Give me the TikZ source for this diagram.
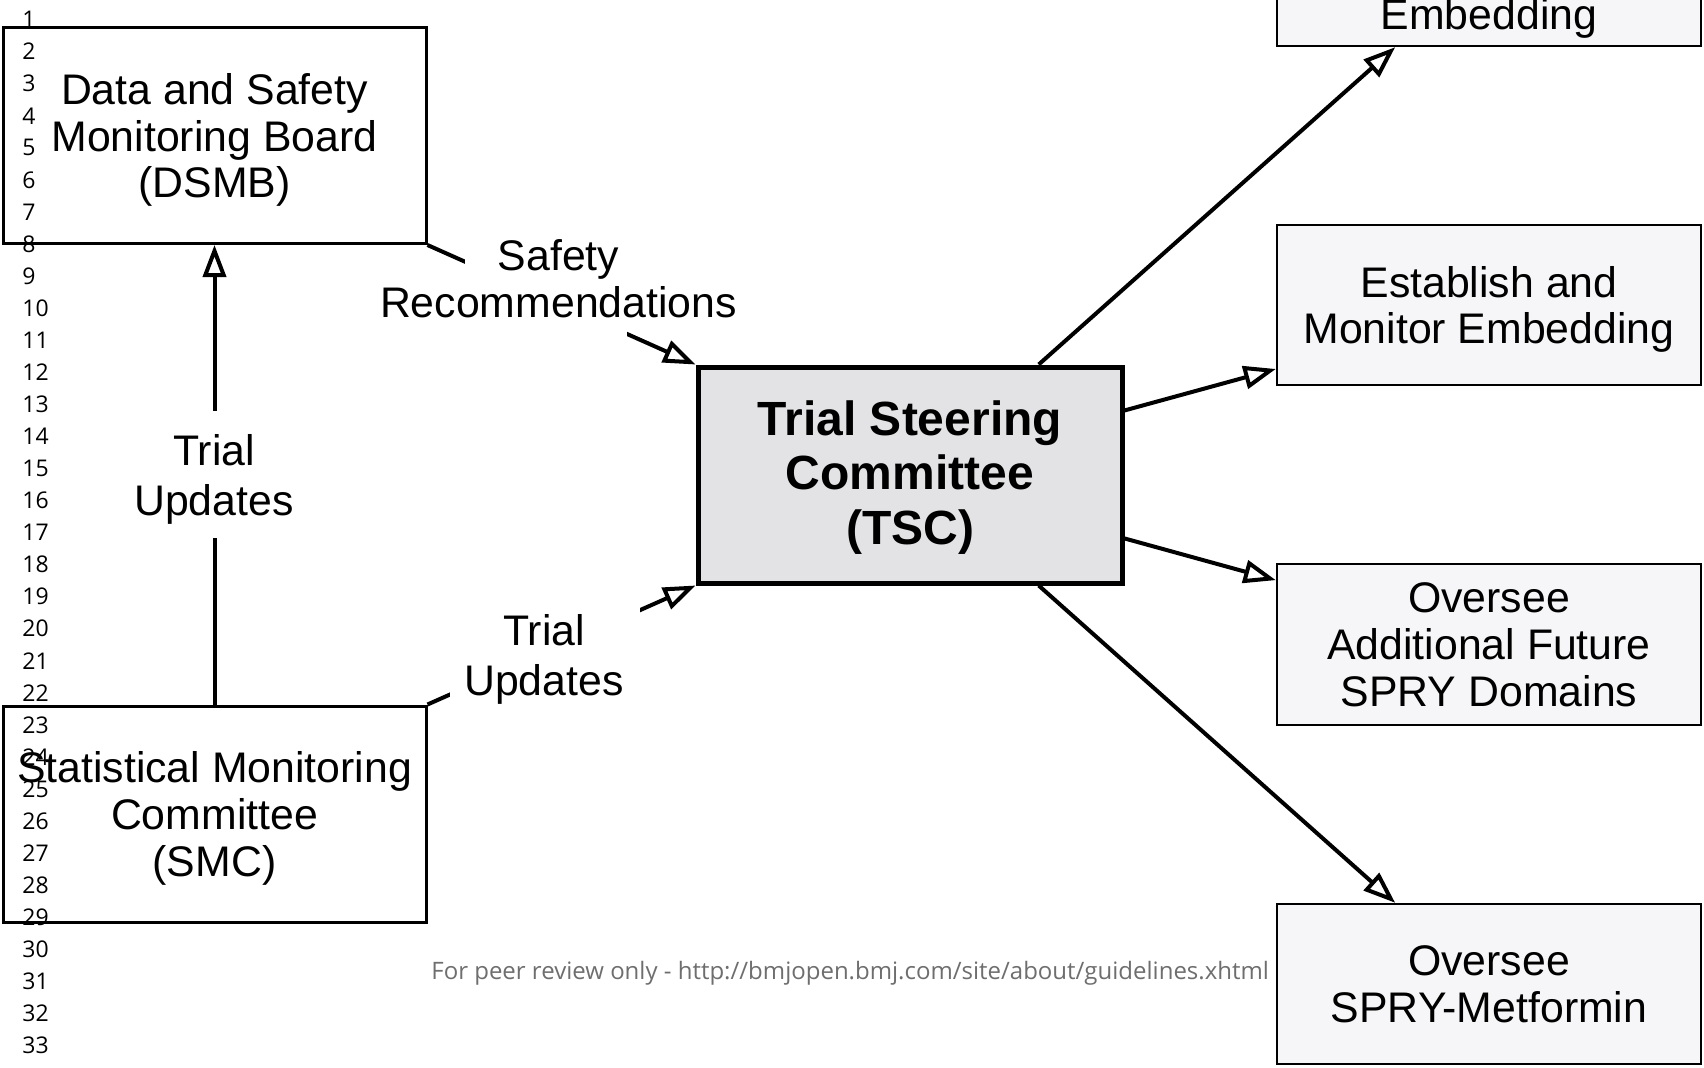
\documentclass[tikz,border=0pt]{standalone}
\usepackage{fontspec}
\setmainfont{Liberation Sans}
\newfontfamily\numfont{Open Sans}
\usetikzlibrary{arrows.meta,calc}
\definecolor{tscfill}{RGB}{227,227,229}
\definecolor{taskfill}{RGB}{246,246,248}
\definecolor{footgray}{RGB}{110,110,110}
\begin{document}
\begin{tikzpicture}[x=0.5pt,y=-0.5pt,
  txt/.style={font=\fontsize{21.4}{23.4}\selectfont, align=center, inner sep=0pt},
  board/.style={txt, draw, line width=1.5pt, fill=white, minimum width=211.5pt, minimum height=108pt, text depth=0pt},
  tscbox/.style={draw, line width=2.5pt, fill=tscfill, minimum width=212pt, minimum height=108pt,
    align=center, inner sep=0pt, text depth=2.5pt, font=\bfseries\fontsize{24}{27.3}\selectfont},
  task/.style={txt, draw, line width=1.2pt, fill=taskfill, minimum width=212pt, minimum height=80pt, text depth=0pt},
  conn/.style={line width=2pt, -{Triangle[open, length=16pt, width=11.5pt]}},
  mask/.style={fill=white},
  lbl/.style={txt},
  updlbl/.style={txt, font=\fontsize{21.4}{25}\selectfont},
  linenum/.style={font=\numfont\fontsize{11.5}{13}\selectfont, anchor=west, inner sep=0pt},
  footer/.style={font=\numfont\fontsize{12}{14}\selectfont, text=footgray, anchor=west, inner sep=0pt}
]
\useasboundingbox (0,0) rectangle (1704,1067);
\clip (0,0) rectangle (1704,1067);

% committees
\node[board] (dsmb) at (214.5,135.5) {Data and Safety\\Monitoring Board\\(DSMB)};
\node[board] (smc) at (214.5,814) {Statistical Monitoring\\Committee\\(SMC)};
\node[tscbox] (tsc) at (910,475) {Trial Steering\\Committee\\(TSC)};

% TSC responsibilities
\node[task] (embed) at (1489,-34) {};
\node[txt, anchor=base] (embedtxt) at (1489,29) {Embedding};
\node[task] (establish) at (1489,305) {Establish and\\Monitor Embedding};
\node[task, minimum height=80.5pt] (future) at (1489,644.5) {Oversee\\Additional Future\\SPRY Domains};
\node[task] (metformin) at (1489,984) {Oversee\\SPRY-Metformin};

% connectors
\draw[conn] (smc.north) -- (dsmb.south);
\draw[conn] (dsmb.south east) -- (tsc.north west);
\draw[conn] (smc.north east) -- (tsc.south west);
\draw[conn] ($(tsc.north west)!0.8!(tsc.north east)$) -- ($(embed.south west)!0.28!(embed.south east)$);
\draw[conn] ($(tsc.north east)!0.208!(tsc.south east)$) -- ($(establish.north west)!0.894!(establish.south west)$);
\draw[conn] ($(tsc.north east)!0.787!(tsc.south east)$) -- ($(future.north west)!0.106!(future.south west)$);
\draw[conn] ($(tsc.south west)!0.8!(tsc.south east)$) -- ($(metformin.north west)!0.28!(metformin.north east)$);

% gaps in the connectors behind their labels
\fill[mask] (190,411) rectangle (240,538);
\fill[mask] (465,230) rectangle (627,345);
\fill[mask] (450,600) rectangle (640,712);

% connector labels
\node[updlbl] (upd1) at (214,479) {Trial\\Updates};
\node[lbl] (safety) at (558.5,279) {Safety\\Recommendations};
\node[updlbl] (upd2) at (544,659) {Trial\\Updates};

% margin line numbers
\foreach \n in {1,...,33}
  \node[linenum] (ln\n) at (22,{19.6+(\n-1)*32.06}) {\n};

% footer
\node[footer] (foot) at (431,973) {For peer review only - http://bmjopen.bmj.com/site/about/guidelines.xhtml};
\end{tikzpicture}
\end{document}
